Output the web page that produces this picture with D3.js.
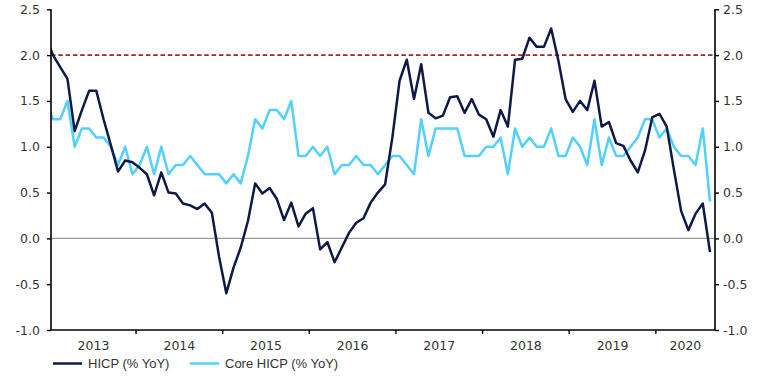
<!DOCTYPE html>
<html>
<head>
<meta charset="utf-8">
<script src="https://cdn.jsdelivr.net/npm/d3@7"></script>
<style>
  body { margin: 0; background: #fff; }
  text { font-family: "DejaVu Sans", Verdana, sans-serif; fill: #333; }
  text.legend { font-family: "Liberation Sans", Arial, sans-serif; }
</style>
</head>
<body>
<svg id="chart" width="766" height="381"></svg>
<script>
// monthly points, Dec 2012 .. Aug 2020 (first one sits just left of the axis and is clipped)
const months = d3.timeMonth.range(new Date(2012, 11, 1), new Date(2020, 8, 1));

const hicp = [2.2,
  2.0, 1.87, 1.74, 1.17, 1.4, 1.61, 1.61, 1.3, 1.02, 0.73, 0.85, 0.83,
  0.77, 0.7, 0.47, 0.72, 0.5, 0.49, 0.38, 0.36, 0.32, 0.38, 0.28, -0.2,
  -0.6, -0.32, -0.1, 0.19, 0.6, 0.49, 0.55, 0.43, 0.2, 0.39, 0.13, 0.27,
  0.33, -0.12, -0.04, -0.26, -0.1, 0.06, 0.17, 0.22, 0.39, 0.5, 0.59, 1.1,
  1.72, 1.95, 1.52, 1.9, 1.37, 1.31, 1.34, 1.54, 1.55, 1.37, 1.52, 1.35,
  1.3, 1.11, 1.4, 1.22, 1.95, 1.96, 2.19, 2.09, 2.09, 2.29, 1.94, 1.52,
  1.38, 1.5, 1.4, 1.72, 1.22, 1.27, 1.04, 1.01, 0.85, 0.72, 0.96, 1.32,
  1.36, 1.22, 0.75, 0.3, 0.09, 0.27, 0.38, -0.15];

const core = [1.5,
  1.3, 1.3, 1.5, 1.0, 1.2, 1.2, 1.1, 1.1, 1.0, 0.8, 1.0, 0.7,
  0.8, 1.0, 0.7, 1.0, 0.7, 0.8, 0.8, 0.9, 0.8, 0.7, 0.7, 0.7,
  0.6, 0.7, 0.6, 0.9, 1.3, 1.2, 1.4, 1.4, 1.3, 1.5, 0.9, 0.9,
  1.0, 0.9, 1.0, 0.7, 0.8, 0.8, 0.9, 0.8, 0.8, 0.7, 0.8, 0.9,
  0.9, 0.8, 0.7, 1.3, 0.9, 1.2, 1.2, 1.2, 1.2, 0.9, 0.9, 0.9,
  1.0, 1.0, 1.1, 0.7, 1.2, 1.0, 1.1, 1.0, 1.0, 1.2, 0.9, 0.9,
  1.1, 1.0, 0.8, 1.3, 0.8, 1.1, 0.9, 0.9, 1.0, 1.1, 1.3, 1.3,
  1.1, 1.2, 1.0, 0.9, 0.9, 0.8, 1.2, 0.4];

const years = [2013, 2014, 2015, 2016, 2017, 2018, 2019, 2020];
const yTicks = [-1.0, -0.5, 0.0, 0.5, 1.0, 1.5, 2.0, 2.5];
const target = 2.0;
const seriesNames = ["HICP (% YoY)", "Core HICP (% YoY)"];

const plotLeft = 51, plotRight = 715, plotTop = 9.3, plotBottom = 330;

const svg = d3.select("#chart");

const x = d3.scalePoint()
  .domain(d3.range(months.length))
  .range([45.8, 710]);
const step = x.step();

const y = d3.scaleLinear()
  .domain([-1, 2.5])
  .range([plotBottom, plotTop]);

// year boundaries sit half a month before each January
const janIndex = (yr) => months.findIndex((m) => m.getFullYear() === yr && m.getMonth() === 0);
const edge = (yr) => {
  const i = janIndex(yr);
  return i < 0 ? plotRight : x(i) - step / 2;
};

svg.append("defs").append("clipPath").attr("id", "plot")
  .append("rect")
  .attr("x", plotLeft).attr("y", 0)
  .attr("width", plotRight - plotLeft).attr("height", plotBottom);

// zero line
svg.append("line")
  .attr("x1", plotLeft).attr("x2", plotRight)
  .attr("y1", y(0)).attr("y2", y(0))
  .attr("stroke", "#9a9a9a").attr("stroke-width", 1.2);

// 2% target
svg.append("line")
  .attr("x1", plotLeft).attr("x2", plotRight)
  .attr("y1", y(target)).attr("y2", y(target))
  .attr("stroke", "#a3262a").attr("stroke-width", 1.6)
  .attr("stroke-dasharray", "4.5,2.8");

const line = (vals) => d3.line()
  .x((d, i) => x(i))
  .y((d) => y(d))(vals);

const plot = svg.append("g").attr("clip-path", "url(#plot)");
plot.append("path")
  .attr("d", line(core))
  .attr("fill", "none").attr("stroke", "#52d0ff")
  .attr("stroke-width", 2.5).attr("stroke-linejoin", "round");
plot.append("path")
  .attr("d", line(hicp))
  .attr("fill", "none").attr("stroke", "#0e1a45")
  .attr("stroke-width", 2.5).attr("stroke-linejoin", "round");

// axes
const fmt = (d) => d.toFixed(1);
const yl = svg.append("g")
  .attr("transform", `translate(${plotLeft},0)`)
  .call(d3.axisLeft(y).tickValues(yTicks).tickFormat(fmt).tickSize(4).tickPadding(7));
const yr = svg.append("g")
  .attr("transform", `translate(${plotRight},0)`)
  .call(d3.axisRight(y).tickValues(yTicks).tickFormat(fmt).tickSize(4).tickPadding(4));

[yl, yr].forEach((g) => {
  g.select(".domain").attr("stroke", "#000").attr("stroke-width", 1.6)
    .attr("d", `M0,${plotTop}V${plotBottom}`);
  g.selectAll(".tick line").attr("stroke", "#000").attr("stroke-width", 1.4);
  g.selectAll(".tick text").attr("font-size", 12.5).attr("fill", "#333");
});

// x axis
const xg = svg.append("g");
xg.append("line")
  .attr("x1", plotLeft).attr("x2", plotRight)
  .attr("y1", plotBottom).attr("y2", plotBottom)
  .attr("stroke", "#000").attr("stroke-width", 1.6);
xg.selectAll(".xtick")
  .data(years.slice(1))
  .join("line")
  .attr("x1", (d) => edge(d)).attr("x2", (d) => edge(d))
  .attr("y1", plotBottom).attr("y2", plotBottom + 4)
  .attr("stroke", "#000").attr("stroke-width", 1.4);
xg.selectAll(".xlabel")
  .data(years)
  .join("text")
  .attr("x", (d) => (Math.max(plotLeft, edge(d)) + Math.min(plotRight, edge(d + 1))) / 2)
  .attr("y", plotBottom + 20)
  .attr("text-anchor", "middle")
  .attr("font-size", 12.5)
  .text((d) => d);

// legend
const legend = svg.append("g").attr("transform", `translate(53,363.5)`);
const legendColors = ["#0e1a45", "#52d0ff"];
const legendX = [0, 137];
seriesNames.forEach((name, i) => {
  const g = legend.append("g").attr("transform", `translate(${legendX[i]},0)`);
  g.append("line").attr("x1", 0).attr("x2", 29).attr("y1", 0).attr("y2", 0)
    .attr("stroke", legendColors[i]).attr("stroke-width", 2.5);
  g.append("text").attr("class", "legend").attr("x", 35).attr("y", 4.8)
    .attr("font-size", 13).text(name);
});
</script>
</body>
</html>
